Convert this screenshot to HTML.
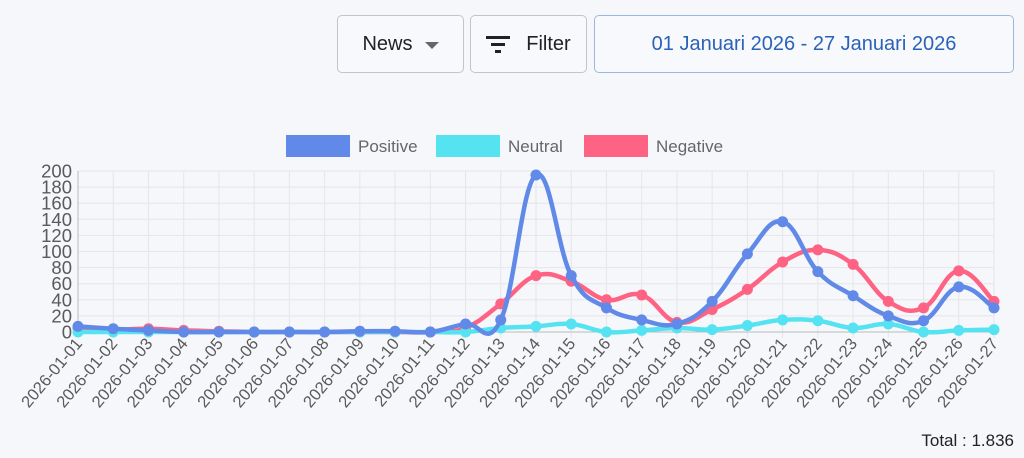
<!DOCTYPE html><html><head><style>
body{margin:0;width:1024px;height:458px;background:#f6f7fb;font-family:"Liberation Sans",sans-serif;overflow:hidden;position:relative}
.btn{position:absolute;top:15px;height:58px;border:1px solid #c4c4c4;border-radius:5px;box-sizing:border-box;display:flex;align-items:center;justify-content:center;font-size:20px;color:#222;background:#f8f9fc}
</style></head><body>
<div class="btn" style="left:337px;width:127px">News<span style="margin-left:12px;border-left:7px solid transparent;border-right:7px solid transparent;border-top:7px solid #666;margin-top:3px"></span></div>
<div class="btn" style="left:470px;width:117px"><svg width="24" height="20" style="margin-right:16px"><rect x="0" y="2" width="24" height="3" fill="#222"/><rect x="5" y="9" width="14" height="3" fill="#222"/><rect x="9" y="16" width="6" height="3" fill="#222"/></svg>Filter</div>
<div class="btn" style="left:594px;width:420px;border-color:#9ab8e0;color:#2a62b8">01 Januari 2026 - 27 Januari 2026</div>
<svg id="c" width="1024" height="458" style="position:absolute;left:0;top:0"></svg>
<div style="position:absolute;right:10px;top:431px;font-size:17px;color:#222">Total : 1.836</div>
<script>
const P=[7,4,2,0,0,0,0,0,1,1,0,10,15,195,70,30,15,10,38,97,137,75,45,20,14,56,30];
const N=[0,0,0,0,0,0,0,0,0,0,0,0,5,7,10,0,2,5,3,8,15,14,5,10,0,2,3];
const G=[5,3,4,2,1,0,0,0,0,0,0,5,35,70,63,40,46,12,28,53,87,102,84,38,30,76,38];
const x0=78,x1=994,y0=332,y2=171,dx=(x1-x0)/26;
const X=i=>x0+i*dx,Y=v=>y0-(y0-y2)*v/200;
let s='';
for(let v=0;v<=200;v+=20){const y=Y(v);s+=`<line x1="${x0}" x2="${x1}" y1="${y}" y2="${y}" stroke="#e6e6ea"/><text x="${x0-6}" y="${y+6.5}" font-size="18.5" fill="#5a5a5a" text-anchor="end">${v}</text>`}
for(let i=0;i<27;i++){const x=X(i);s+=`<line x1="${x}" x2="${x}" y1="${y2}" y2="${y0+6}" stroke="#e6e6ea"/>`;
const d='2026-01-'+String(i+1).padStart(2,'0');s+=`<text transform="translate(${x+5},${y0+12}) rotate(-50)" font-size="16.5" fill="#5a5a5a" text-anchor="end">${d}</text>`}
s+=`<line x1="${x0}" x2="${x0}" y1="${y2}" y2="${y0}" stroke="#bbb"/><line x1="${x0}" x2="${x1}" y1="${y0}" y2="${y0}" stroke="#bbb"/>`;
function path(a){const p=a.map((v,i)=>[X(i),Y(v)]);let d=`M${p[0]}`;const t=0.2;
for(let i=0;i<p.length-1;i++){const a0=p[Math.max(i-1,0)],a1=p[i],a2=p[i+1],a3=p[Math.min(i+2,p.length-1)];
const c1=[a1[0]+(a2[0]-a0[0])*t,a1[1]+(a2[1]-a0[1])*t],c2=[a2[0]-(a3[0]-a1[0])*t,a2[1]-(a3[1]-a1[1])*t];d+=`C${c1} ${c2} ${a2}`}return d}
function ser(a,c){s+=`<path d="${path(a)}" fill="none" stroke="${c}" stroke-width="4.5"/>`;a.forEach((v,i)=>s+=`<circle cx="${X(i)}" cy="${Y(v)}" r="5.5" fill="${c}"/>`)}
ser(G,'#ff6384');ser(N,'#55e3f2');ser(P,'#6089e8');
const L=[[286,'#6089e8','Positive'],[436,'#55e3f2','Neutral'],[584,'#ff6384','Negative']];
L.forEach(([x,c,t])=>s+=`<rect x="${x}" y="135" width="64" height="22" fill="${c}"/><text x="${x+72}" y="152" font-size="17" fill="#666">${t}</text>`);
document.getElementById('c').innerHTML=s;
</script></body></html>
